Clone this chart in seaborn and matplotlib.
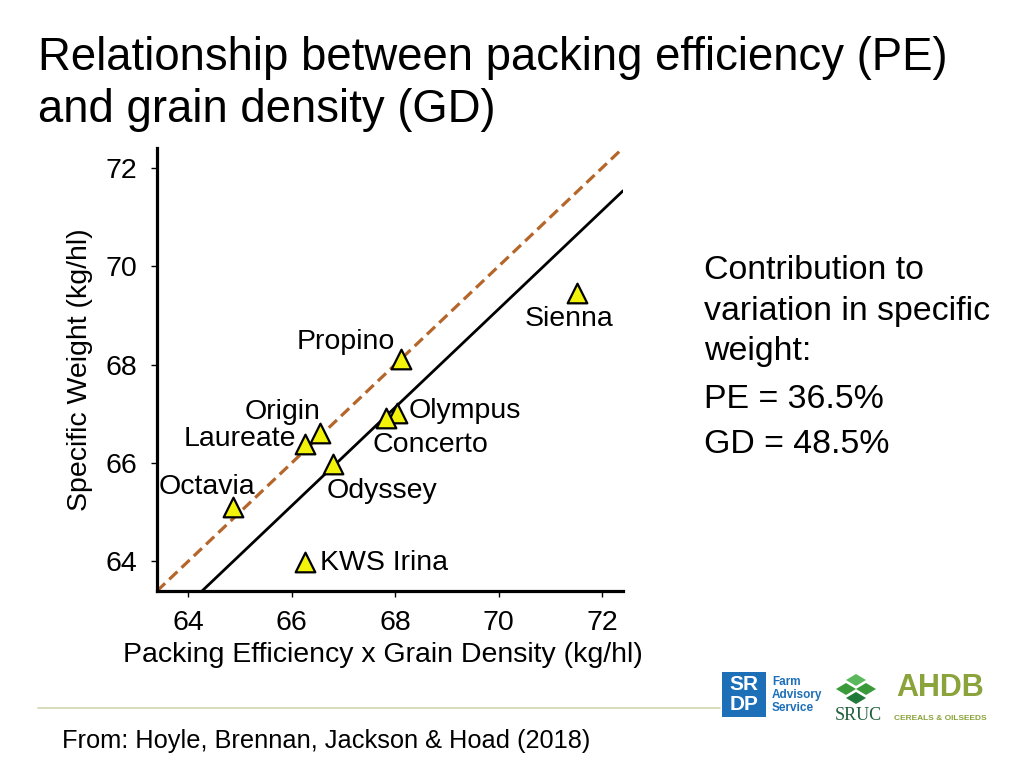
"""Specific weight vs. packing efficiency x grain density (slide recreation)."""

import matplotlib

matplotlib.use("Agg")

import matplotlib.pyplot as plt
import pandas as pd
import seaborn as sns
from matplotlib.patches import Polygon, Rectangle

# Daten
varieties = ["Sienna", "Propino", "Olympus", "Concerto", "Origin",
             "Laureate", "Odyssey", "Octavia", "KWS Irina"]
pe_x_gd = [71.52, 68.12, 68.03, 67.82, 66.55, 66.26, 66.79, 64.87, 66.26]
specific_weight = [69.46, 68.12, 67.01, 66.92, 66.61, 66.38, 65.99, 65.10, 63.98]

one_to_one = {"intercept": 0.0, "slope": 1.0}
fit_line = {"intercept": -0.87, "slope": 1.0}

axis_ticks = [64, 66, 68, 70, 72]
contribution_lines = ["Contribution to", "variation in specific", "weight:"]
contributions = {"PE": 36.5, "GD": 48.5}

# Label-Versatz in Pixeln relativ zum Marker (dx, dy, ha)
label_offsets = {
    "Sienna": (-8, -26, "center"),
    "Propino": (-6, 17, "right"),
    "Olympus": (12, 2, "left"),
    "Concerto": (-13, -27, "left"),
    "Origin": (0, 21, "right"),
    "Laureate": (-9, 5, "right"),
    "Odyssey": (-6, -27, "left"),
    "Octavia": (-26, 20, "center"),
    "KWS Irina": (15, -1, "left"),
}

FS = 20.5

sns.set_theme(style="ticks")
plt.rcParams["font.family"] = ["Liberation Sans", "DejaVu Sans"]
plt.rcParams["text.color"] = "black"
plt.rcParams["axes.labelcolor"] = "black"

df = pd.DataFrame({"variety": varieties, "x": pe_x_gd, "y": specific_weight})

fig = plt.figure(figsize=(10.24, 7.68), dpi=100)
fig.patch.set_facecolor("white")
ax = fig.add_axes([157 / 1024, 1 - 591 / 768, 466 / 1024, 443 / 768])

# Linien: 1:1 (gestrichelt) und Anpassung (durchgezogen)
ax.axline((0, one_to_one["intercept"]), slope=one_to_one["slope"],
          color="#b5662b", linewidth=2.3, linestyle=(0, (3.5, 1.8)), zorder=2)
ax.axline((0, fit_line["intercept"]), slope=fit_line["slope"],
          color="black", linewidth=2.0, zorder=2)

sns.scatterplot(data=df, x="x", y="y", marker="^", s=200, color="#f2f20a",
                edgecolor="black", linewidth=1.6, ax=ax, zorder=5, legend=False)

for name, xv, yv in zip(varieties, pe_x_gd, specific_weight):
    dx, dy, ha = label_offsets[name]
    ax.annotate(name, (xv, yv), xytext=(dx, dy), textcoords="offset pixels",
                ha=ha, va="center", fontsize=FS, color="black", zorder=6)

ax.set_xlim(63.4, 72.4)
ax.set_ylim(63.4, 72.4)
ax.set_xticks(axis_ticks)
ax.set_yticks(axis_ticks)
ax.tick_params(axis="both", labelsize=FS, length=4, width=1.0, pad=10,
               colors="black")
ax.set_xlabel("Packing Efficiency x Grain Density (kg/hl)", fontsize=FS, labelpad=4)
ax.xaxis.label.set_x(0.485)
ax.set_ylabel("Specific Weight (kg/hl)", fontsize=FS, labelpad=9)
for side in ("top", "right"):
    ax.spines[side].set_visible(False)
for side in ("left", "bottom"):
    ax.spines[side].set_linewidth(2.3)
    ax.spines[side].set_color("black")

# Titel
fig.text(38 / 1024, 1 - 70 / 768, "Relationship between packing efficiency (PE)",
         fontsize=32.8, ha="left", va="baseline")
fig.text(38 / 1024, 1 - 122 / 768, "and grain density (GD)",
         fontsize=32.8, ha="left", va="baseline")

# Rechter Textblock
baselines = [279, 320, 360]
for line, b in zip(contribution_lines, baselines):
    fig.text(704 / 1024, 1 - b / 768, line, fontsize=24.4, ha="left", va="baseline")
for (key, val), b in zip(contributions.items(), [408, 453]):
    fig.text(704 / 1024, 1 - b / 768, f"{key} = {val}%", fontsize=24.4,
             ha="left", va="baseline")

# Fusszeile
fig.add_artist(plt.Line2D([38 / 1024, 720 / 1024], [1 - 708 / 768, 1 - 708 / 768],
                          color="#cfd6b0", linewidth=1.2))
fig.text(62 / 1024, 1 - 748 / 768, "From: Hoyle, Brennan, Jackson & Hoad (2018)",
         fontsize=18.3, ha="left", va="baseline")

# Logos (vereinfacht)
fig.add_artist(Rectangle((722 / 1024, 1 - 717 / 768), 44 / 1024, 45 / 768,
                         transform=fig.transFigure, facecolor="#1d6fb8",
                         edgecolor="none"))
fig.text(744 / 1024, 1 - 684 / 768, "SR", fontsize=15, fontweight="bold",
         color="white", ha="center", va="center")
fig.text(744 / 1024, 1 - 705 / 768, "DP", fontsize=15, fontweight="bold",
         color="white", ha="center", va="center")
for i, word in enumerate(["Farm", "Advisory", "Service"]):
    fig.text(772 / 1024, 1 - (682 + i * 13) / 768, word, fontsize=8.5,
             fontweight="bold", color="#1d6fb8", ha="left", va="center")
for cx, cy, col in [(856, 680, "#5cb85c"), (846, 689, "#3a9a3a"),
                    (866, 689, "#3a9a3a"), (856, 698, "#1f7a3a")]:
    pts = [((cx - 10) / 1024, 1 - cy / 768), (cx / 1024, 1 - (cy - 6) / 768),
           ((cx + 10) / 1024, 1 - cy / 768), (cx / 1024, 1 - (cy + 6) / 768)]
    fig.add_artist(Polygon(pts, closed=True, transform=fig.transFigure,
                           facecolor=col, edgecolor="none"))
fig.text(858 / 1024, 1 - 716 / 768, "SRUC", fontsize=13, color="#1f5f3a",
         family="Liberation Serif", ha="center", va="center")
fig.text(940 / 1024, 1 - 688 / 768, "AHDB", fontsize=22, fontweight="bold",
         color="#8aa33a", ha="center", va="center")
fig.text(940 / 1024, 1 - 718 / 768, "CEREALS & OILSEEDS", fontsize=6,
         fontweight="bold", color="#8aa33a", ha="center", va="center")

fig.savefig("out.png", dpi=100, facecolor="white")
